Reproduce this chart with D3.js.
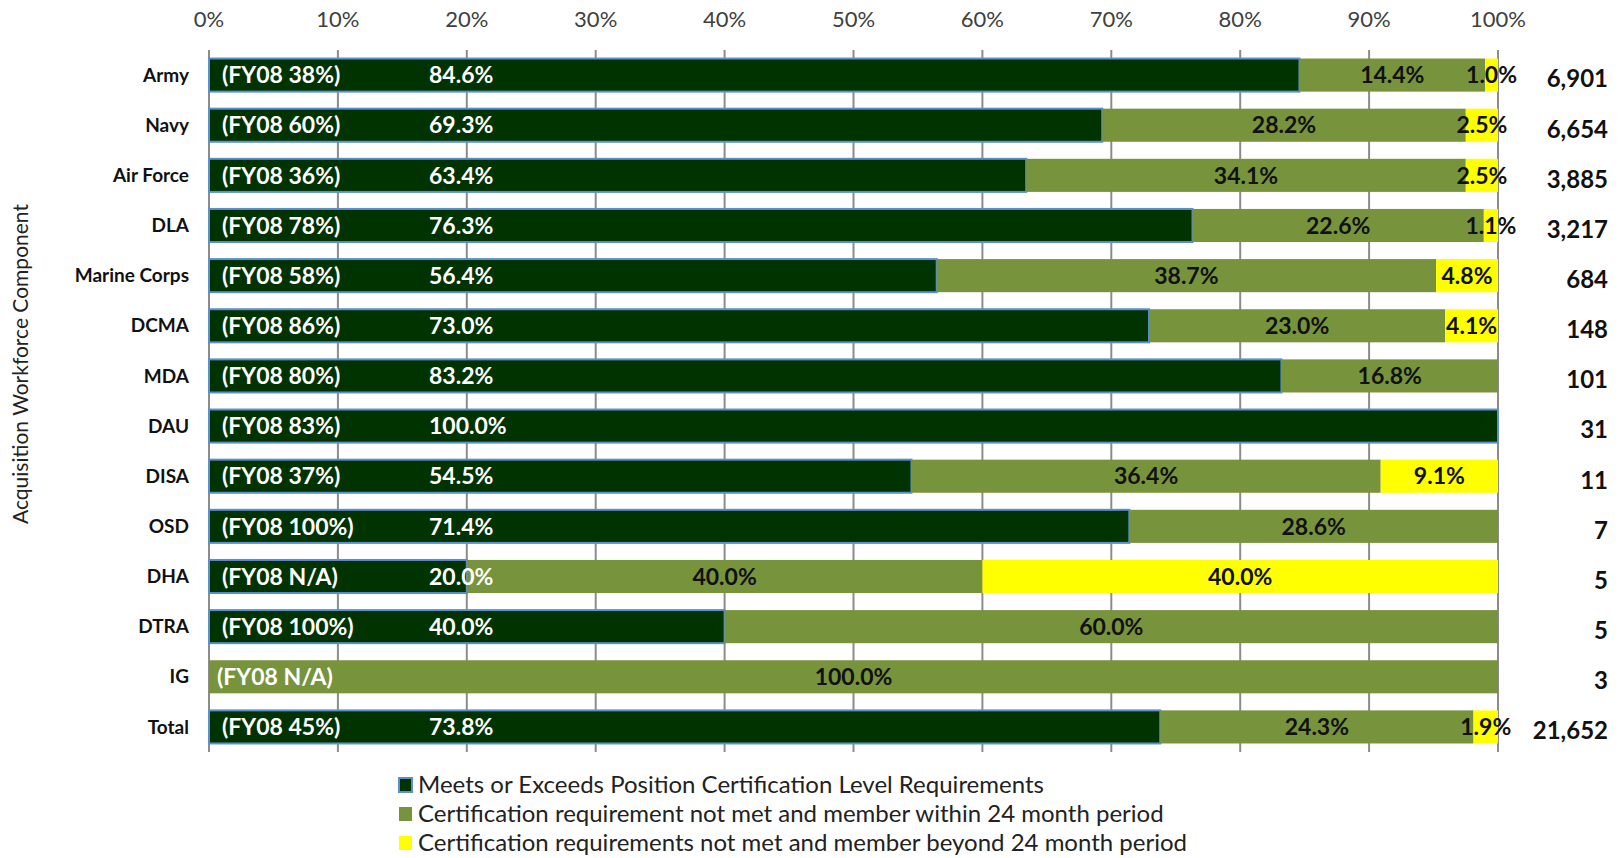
<!DOCTYPE html>
<html>
<head>
<meta charset="utf-8">
<script src="https://cdn.jsdelivr.net/npm/d3@7"></script>
<style>
  body { margin: 0; background: #fff; }
  text { font-family: Lato, "Open Sans", sans-serif; }
</style>
</head>
<body>
<script>
// Data
var components = ["Army", "Navy", "Air Force", "DLA", "Marine Corps", "DCMA", "MDA",
    "DAU", "DISA", "OSD", "DHA", "DTRA", "IG", "Total"];
var meets = [84.6, 69.3, 63.4, 76.3, 56.4, 73.0, 83.2, 100.0, 54.5, 71.4, 20.0, 40.0, 0, 73.8];
var within24 = [14.4, 28.2, 34.1, 22.6, 38.7, 23.0, 16.8, 0, 36.4, 28.6, 40.0, 60.0, 100.0, 24.3];
var beyond24 = [1.0, 2.5, 2.5, 1.1, 4.8, 4.1, 0, 0, 9.1, 0, 40.0, 0, 0, 1.9];
var fy08 = ["38%", "60%", "36%", "78%", "58%", "86%", "80%", "83%", "37%", "100%", "N/A", "100%", "N/A", "45%"];
var counts = ["6,901", "6,654", "3,885", "3,217", "684", "148", "101", "31", "11", "7", "5", "5", "3", "21,652"];
var xTicks = [0, 0.1, 0.2, 0.3, 0.4, 0.5, 0.6, 0.7, 0.8, 0.9, 1];
var seriesNames = [
    "Meets or Exceeds Position Certification Level Requirements",
    "Certification requirement not met and member within 24 month period",
    "Certification requirements not met and member beyond 24 month period"
];
var colors = ["#003300", "#77933c", "#ffff00"];

var w = 1620, h = 858;
var plotLeft = 209, plotRight = 1498, plotTop = 50, plotBottom = 752;

var rows = components.map(function(c, i) {
    return { name: c, s0: meets[i], s1: within24[i], s2: beyond24[i], fy: fy08[i], n: counts[i] };
});

// 100% stacked layout
var stack = d3.stack().keys(["s0", "s1", "s2"]).offset(d3.stackOffsetExpand);
var layers = stack(rows);

var x = d3.scaleLinear().domain([0, 1]).range([plotLeft, plotRight]);
var y = d3.scaleBand().domain(components).range([plotTop, plotBottom])
    .paddingInner(0.34).paddingOuter(0.17);

var svg = d3.select("body").append("svg")
    .attr("width", w)
    .attr("height", h);

// gridlines
svg.append("g")
    .selectAll("line")
    .data(xTicks)
    .join("line")
    .attr("x1", function(d) { return x(d); })
    .attr("x2", function(d) { return x(d); })
    .attr("y1", plotTop)
    .attr("y2", plotBottom)
    .attr("stroke", "#8c8c8c")
    .attr("stroke-width", 2);

// top axis labels
svg.append("g")
    .selectAll("text")
    .data(xTicks)
    .join("text")
    .attr("x", function(d) { return x(d); })
    .attr("y", 19)
    .attr("dy", "0.35em")
    .attr("text-anchor", "middle")
    .attr("fill", "#404040")
    .style("font-size", "22px")
    .text(d3.format(".0%"));

// bars
var groups = svg.append("g")
    .selectAll("g")
    .data(layers)
    .join("g")
    .attr("fill", function(d, i) { return colors[i]; });

groups.selectAll("rect")
    .data(function(d) { return d.map(function(v) { return { v: v, key: d.key }; }); })
    .join("rect")
    .attr("x", function(d) { return x(d.v[0]); })
    .attr("y", function(d) { return y(d.v.data.name); })
    .attr("width", function(d) { return x(d.v[1]) - x(d.v[0]); })
    .attr("height", y.bandwidth())
    .attr("stroke", function(d) { return d.key === "s0" && d.v[1] > d.v[0] ? "#5b8fd0" : "none"; })
    .attr("stroke-width", 2);

// FY08 labels
svg.append("g")
    .selectAll("text")
    .data(rows)
    .join("text")
    .attr("x", function(d) { return d.s0 > 0 ? x(0) + 13 : x(0) + 8; })
    .attr("y", function(d) { return y(d.name) + y.bandwidth() / 2; })
    .attr("dy", "0.36em")
    .attr("fill", "#fff")
    .style("font-size", "23px")
    .style("font-weight", "bold")
    .text(function(d) { return "(FY08 " + d.fy + ")"; });

// first series value labels
svg.append("g")
    .selectAll("text")
    .data(rows.filter(function(d) { return d.s0 > 0; }))
    .join("text")
    .attr("x", x(0) + 220)
    .attr("y", function(d) { return y(d.name) + y.bandwidth() / 2; })
    .attr("dy", "0.36em")
    .attr("fill", "#fff")
    .style("font-size", "23px")
    .style("font-weight", "bold")
    .text(function(d) { return d.s0.toFixed(1) + "%"; });

// other series value labels
[1, 2].forEach(function(k) {
    svg.append("g")
        .selectAll("text")
        .data(layers[k].filter(function(v) { return v[1] > v[0]; }))
        .join("text")
        .attr("x", function(v) { return x((v[0] + v[1]) / 2); })
        .attr("y", function(v) { return y(v.data.name) + y.bandwidth() / 2; })
        .attr("dy", "0.36em")
        .attr("text-anchor", "middle")
        .attr("fill", "#111")
        .style("font-size", "23px")
        .style("font-weight", "bold")
        .text(function(v) { return v.data["s" + k].toFixed(1) + "%"; });
});

// category labels
svg.append("g")
    .selectAll("text")
    .data(components)
    .join("text")
    .attr("x", 189)
    .attr("y", function(d) { return y(d) + y.bandwidth() / 2; })
    .attr("dy", "0.35em")
    .attr("text-anchor", "end")
    .attr("fill", "#111")
    .style("font-size", "19px")
    .style("font-weight", "bold")
    .text(function(d) { return d; });

// counts on the right
svg.append("g")
    .selectAll("text")
    .data(rows)
    .join("text")
    .attr("x", 1608)
    .attr("y", function(d) { return y(d.name) + y.bandwidth() / 2 + 4; })
    .attr("dy", "0.35em")
    .attr("text-anchor", "end")
    .attr("fill", "#111")
    .style("font-size", "24px")
    .style("font-weight", "bold")
    .text(function(d) { return d.n; });

// y-axis title
svg.append("text")
    .attr("transform", "translate(21,364) rotate(-90)")
    .attr("text-anchor", "middle")
    .attr("dy", "0.35em")
    .attr("fill", "#222")
    .style("font-size", "21px")
    .text("Acquisition Workforce Component");

// legend
var legend = svg.append("g")
    .selectAll("g")
    .data(seriesNames)
    .join("g")
    .attr("transform", function(d, i) { return "translate(398," + (785 + i * 29) + ")"; });

legend.append("rect")
    .attr("x", 1)
    .attr("y", -7)
    .attr("width", 13)
    .attr("height", 14)
    .attr("fill", function(d, i) { return colors[i]; })
    .attr("stroke", function(d, i) { return i === 0 ? "#5b8fd0" : "none"; })
    .attr("stroke-width", 2);

legend.append("text")
    .attr("x", 20)
    .attr("dy", "0.35em")
    .attr("fill", "#222")
    .style("font-size", "24px")
    .text(function(d) { return d; });
</script>
</body>
</html>
